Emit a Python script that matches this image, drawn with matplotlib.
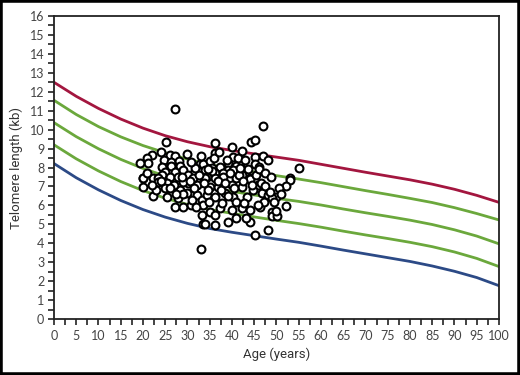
import matplotlib
matplotlib.use("Agg")
import matplotlib.pyplot as plt
from matplotlib.ticker import MultipleLocator
from matplotlib.patches import Rectangle

# Percentile curves, telomere length (kb) by age
ages = [0, 5, 10, 15, 20, 25, 30, 35, 40, 45, 50, 55, 60, 65, 70, 75, 80, 85, 90, 95, 100]
red_curve = [12.50, 11.76, 11.12, 10.56, 10.08, 9.68, 9.36, 9.10, 8.90, 8.72, 8.55,
             8.38, 8.17, 7.96, 7.75, 7.55, 7.35, 7.12, 6.85, 6.53, 6.16]
green_1 = [11.55, 10.80, 10.16, 9.62, 9.16, 8.78, 8.44, 8.15, 7.94, 7.76, 7.57,
           7.39, 7.20, 6.99, 6.78, 6.58, 6.37, 6.15, 5.88, 5.57, 5.23]
green_2 = [10.37, 9.63, 8.99, 8.43, 7.95, 7.55, 7.21, 6.94, 6.74, 6.55, 6.37,
           6.21, 6.02, 5.81, 5.61, 5.42, 5.22, 4.99, 4.71, 4.38, 3.97]
green_3 = [9.20, 8.46, 7.82, 7.26, 6.78, 6.38, 6.05, 5.78, 5.58, 5.39, 5.21,
           5.04, 4.85, 4.64, 4.44, 4.25, 4.05, 3.82, 3.54, 3.20, 2.77]
blue_curve = [8.21, 7.46, 6.82, 6.26, 5.78, 5.38, 5.05, 4.78, 4.58, 4.40, 4.22,
              4.05, 3.85, 3.64, 3.44, 3.24, 3.04, 2.80, 2.52, 2.19, 1.76]

# Patient measurements
patient_age = [27.2, 25.2, 24.0, 30.0, 22.0, 20.8, 21.2, 19.3, 26.1, 27.2, 24.7, 26.2, 28.2,
               24.2, 26.3, 28.3, 32.8, 25.0, 27.2, 29.1, 24.3, 31.3, 20.1, 22.3, 26.1, 27.9,
               33.2, 30.2,
               47.0, 44.2, 45.2, 36.2, 36.2, 42.2, 40.3, 41.4, 45.2, 47.0, 48.2, 45.2, 46.1,
               55.1, 33.5, 35.1, 35.4, 37.3, 39.2, 41.0, 42.2, 33.9, 39.2, 40.3, 36.2, 38.0,
               42.2, 53.0, 44.0, 34.3,
               20.1, 23.4, 20.1, 23.4, 25.3, 25.0, 22.3, 25.3, 28.3, 27.9, 27.2, 29.1, 30.9,
               29.8, 32.1, 33.2, 33.2, 33.5, 33.0, 30.2, 32.1, 29.1, 31.3,
               53.0, 52.1, 52.1, 45.9, 46.7, 48.2, 50.0, 48.9, 46.3, 47.2, 48.9, 49.1, 50.2,
               48.2, 45.2, 44.0, 43.1, 41.0, 39.2, 36.2, 33.9, 33.9, 36.2, 38.0, 41.0, 44.0,
               35.1, 36.9, 39.9, 42.2, 34.3, 36.2, 38.4, 40.3, 43.3, 44.8, 45.9, 37.3, 39.9,
               42.2, 44.0, 35.1, 36.2, 33.5,
               30.5, 31.5, 32.5, 33.8, 34.5, 35.5, 36.8, 37.5, 38.5, 39.5, 40.5, 41.5, 42.5,
               43.5, 44.5, 45.5, 46.5, 47.5, 48.5, 49.5, 29.0, 31.0, 32.0, 34.8, 37.8, 40.8,
               42.8, 27.0, 26.0, 28.8, 23.0, 22.0, 21.0, 36.0, 38.8, 43.0, 46.0, 47.5, 48.8,
               50.5, 51.0, 49.8, 24.0, 27.5, 31.8, 30.8, 33.0, 34.5, 37.0, 41.8, 40.0, 39.0]
patient_tl = [11.09, 9.33, 8.83, 8.71, 8.64, 8.48, 8.25, 8.22, 8.66, 8.60, 8.40, 8.30, 8.34,
              8.04, 8.08, 8.08, 8.17, 7.78, 7.78, 7.87, 7.60, 7.66, 7.46, 7.46, 7.51, 7.51,
              7.55, 7.60,
              10.19, 9.36, 9.45, 9.28, 8.78, 8.87, 8.57, 8.48, 8.57, 8.60, 8.39, 8.17, 8.04,
              7.99, 8.17, 8.34, 7.99, 8.04, 8.22, 8.09, 7.92, 7.87, 7.87, 7.87, 7.69, 7.69,
              7.60, 7.43, 7.46, 7.51,
              7.43, 7.43, 6.99, 7.25, 7.16, 6.90, 6.51, 6.46, 6.81, 6.37, 5.90, 5.93, 6.02,
              6.64, 6.55, 6.28, 5.49, 5.00, 3.70, 7.16, 7.07, 7.25, 7.43,
              7.34, 7.04, 5.98, 7.07, 6.64, 6.55, 6.43, 6.37, 5.93, 6.16, 5.63, 5.45, 5.45,
              4.70, 4.44, 5.14, 5.35, 5.32, 5.14, 4.96, 5.00, 7.43, 7.43, 7.51, 7.43, 7.39,
              6.99, 6.99, 7.07, 6.99, 6.55, 6.46, 6.64, 6.46, 6.46, 6.81, 6.02, 5.85, 5.76,
              5.85, 5.76, 5.67, 5.49, 6.02,
              7.30, 6.90, 7.60, 7.20, 6.80, 7.80, 7.30, 6.80, 7.20, 7.70, 6.90, 7.60, 7.30,
              7.90, 7.10, 7.60, 7.20, 7.00, 6.70, 6.20, 6.60, 6.30, 5.90, 6.20, 6.10, 6.20,
              6.10, 7.10, 6.90, 7.50, 6.80, 7.10, 7.70, 8.50, 8.40, 8.40, 7.90, 7.70, 7.50,
              6.90, 6.60, 5.70, 7.30, 6.60, 8.00, 8.30, 8.60, 7.90, 8.80, 8.00, 9.10, 6.50]

x_ticks = list(range(0, 101, 5))
y_ticks = list(range(0, 17))

fig = plt.figure(figsize=(5.2, 3.75), dpi=100)
ax = fig.add_axes([0.1038, 0.1493, 0.8558, 0.808])

red = "#A3163F"
green = "#6BA83C"
blue = "#2C4A86"
lw = 2.0
ax.plot(ages, red_curve, color=red, lw=lw, zorder=2)
for g in (green_1, green_2, green_3):
    ax.plot(ages, g, color=green, lw=lw, zorder=2)
ax.plot(ages, blue_curve, color=blue, lw=lw, zorder=2)

ax.scatter(patient_age, patient_tl, s=32, facecolors="white", edgecolors="black",
           linewidths=1.5, zorder=3)

ax.set_xlim(0, 100)
ax.set_ylim(0, 16)
ax.set_xticks(x_ticks)
ax.set_yticks(y_ticks)
ax.xaxis.set_minor_locator(MultipleLocator(2.5))
ax.yaxis.set_minor_locator(MultipleLocator(0.5))
ax.tick_params(axis="both", which="both", direction="out", length=4, width=1.2,
               color="#222222", labelsize=9, labelcolor="#444444", pad=3)
ax.tick_params(axis="x", which="major", pad=4)
for sp in ax.spines.values():
    sp.set_color("#222222")
    sp.set_linewidth(1.3)

ax.set_xlabel("Age (years)", fontsize=9.5, color="#333333", labelpad=4,
              family=["Roboto", "DejaVu Sans"])
ax.set_ylabel("Telomere length (kb)", fontsize=9.5, color="#333333", labelpad=5,
              family=["Roboto", "DejaVu Sans"])
for lab in ax.get_xticklabels() + ax.get_yticklabels():
    lab.set_family(["Lato", "DejaVu Sans"])

fig.patches.append(Rectangle((0, 0), 1, 1, transform=fig.transFigure, fill=False,
                             edgecolor="black", linewidth=4, zorder=10))

fig.savefig("out.png", dpi=100)
